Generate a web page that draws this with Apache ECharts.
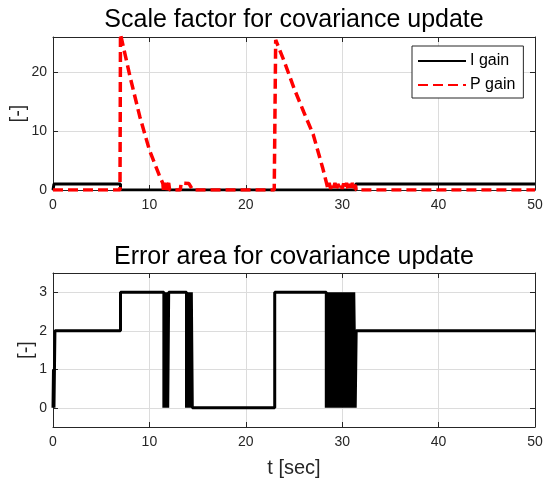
<!DOCTYPE html>
<html>
<head>
<meta charset="utf-8">
<title>Scale factor / Error area</title>
<script src="https://cdn.jsdelivr.net/npm/echarts@6/dist/echarts.min.js"></script>
<style>
  html, body { margin: 0; padding: 0; background: #fff; }
  #chart { width: 550px; height: 486px; }
</style>
</head>
<body>
<div id="chart"></div>
<script>
// I gain (zero-order hold)
var iGainT = [0, 0.1, 7.0, 31.4, 50];
var iGainV = [0, 1, 0, 1, 1];

// P gain
var pGainT = [0, 6.95, 7.0, 8, 9, 10, 11, 11.4, 11.45, 11.7, 11.75, 12.0, 12.1, 13.2, 13.3, 14.1, 14.5,
  22.95, 23.1, 24, 25, 26, 27, 28, 28.4, 28.5, 28.65, 28.8, 28.95, 29.1, 29.25, 29.4, 29.55, 29.7,
  29.85, 30.0, 30.15, 30.3, 30.45, 30.6, 30.75, 30.9, 31.05, 31.2, 31.35, 31.45, 50];
var pGainV = [0, 0, 26.5, 19.2, 12.5, 6.8, 2.6, 1.1, 0, 1.2, 0, 1.2, 0, 0, 1.2, 1.1, 0,
  0, 25.5, 21.8, 17.3, 13.3, 9.4, 3.6, 1.0, 0.3, 1.2, 0.2, 1.1, 0.4, 1.2, 0.1, 1.0, 0.5,
  1.2, 0.2, 1.1, 0.3, 1.2, 0.2, 1.0, 0.4, 1.2, 0.2, 0.9, 0, 0];

// error area (zero-order hold)
var errT = [0, 0.05, 0.1, 0.15, 0.2, 7.0, 11.5, 11.6, 11.7, 11.8, 11.9, 12.0,
  13.85, 13.95, 14.05, 14.15, 14.25, 14.35, 14.45, 23.0,
  28.35, 28.5, 28.65, 28.8, 28.95, 29.1, 29.25, 29.4, 29.55, 29.7, 29.85, 30.0,
  30.15, 30.3, 30.45, 30.6, 30.75, 30.9, 31.05, 31.2, 31.35, 31.45, 50];
var errV = [0, 1, 0, 1, 2, 3, 0, 3, 0, 3, 0, 3,
  0, 3, 0, 3, 0, 3, 0, 3,
  0, 3, 0, 3, 0, 3, 0, 3, 0, 3, 0, 3,
  0, 3, 0, 3, 0, 3, 0, 3, 0, 2, 2];

var errTicks = [0, 1, 2, 3];

function zip(t, v) {
  return t.map(function (x, i) { return [x, v[i]]; });
}

var font = 'Liberation Sans, Arial, Helvetica, sans-serif';
var axisColor = '#262626';
var gridColor = '#dcdcdc';

function xAxis(gridIndex, top, name) {
  return {
    type: 'value', gridIndex: gridIndex, position: top ? 'top' : 'bottom',
    min: 0, max: 50, interval: 10,
    name: name || '', nameLocation: 'middle', nameGap: 31, nameMoveOverlap: false,
    nameTextStyle: { fontSize: 20, color: axisColor, fontFamily: font },
    axisLine: { show: true, onZero: false, lineStyle: { color: axisColor, width: 1 } },
    axisTick: { show: true, inside: true, length: 5, lineStyle: { color: axisColor } },
    axisLabel: { show: !top, fontSize: 14, color: axisColor, fontFamily: font, margin: 8 },
    splitLine: { show: !top, lineStyle: { color: gridColor, width: 1 } }
  };
}

function yAxis(gridIndex, right, opts) {
  var a = {
    type: 'value', gridIndex: gridIndex, position: right ? 'right' : 'left',
    min: opts.min, max: opts.max,
    name: right ? '' : '[-]', nameLocation: 'middle', nameGap: opts.gap || 0,
    nameMoveOverlap: false,
    nameTextStyle: { fontSize: 20, color: axisColor, fontFamily: font },
    axisLine: { show: true, onZero: false, lineStyle: { color: axisColor, width: 1 } },
    axisTick: { show: true, inside: true, length: 5, lineStyle: { color: axisColor } },
    axisLabel: { show: !right, fontSize: 14, color: axisColor, fontFamily: font, margin: 6 },
    splitLine: { show: !right, lineStyle: { color: gridColor, width: 1 } }
  };
  if (opts.interval) {
    a.interval = opts.interval;
    a.axisLabel.showMaxLabel = false;
  }
  if (opts.ticks) {
    a.axisTick.customValues = opts.ticks;
    a.axisLabel.customValues = opts.ticks;
  }
  return a;
}

var option = {
  animation: false,
  backgroundColor: '#fff',
  textStyle: { fontFamily: font },
  title: [
    { text: 'Scale factor for covariance update', left: 289, top: 3, textAlign: 'center',
      textStyle: { fontSize: 25, fontWeight: 'normal', color: '#000', fontFamily: font } },
    { text: 'Error area for covariance update', left: 289, top: 240, textAlign: 'center',
      textStyle: { fontSize: 25, fontWeight: 'normal', color: '#000', fontFamily: font } }
  ],
  legend: {
    orient: 'vertical', left: 412, top: 46,
    data: ['I gain', 'P gain'],
    itemWidth: 48, itemHeight: 14, itemGap: 8,
    padding: [7, 8, 5, 5],
    backgroundColor: '#fff', borderColor: axisColor, borderWidth: 1, borderRadius: 0,
    itemStyle: { opacity: 0, borderWidth: 0 },
    textStyle: { fontSize: 16, color: '#000', fontFamily: font, padding: [0, 0, 0, -1] }
  },
  grid: [
    { left: 53, right: 15, top: 37, height: 153, outerBoundsMode: 'none' },
    { left: 53, right: 15, top: 273, height: 154, outerBoundsMode: 'none' }
  ],
  xAxis: [
    xAxis(0, false),
    xAxis(1, false, 't [sec]'),
    xAxis(0, true),
    xAxis(1, true)
  ],
  yAxis: [
    yAxis(0, false, { min: 0, max: 26, interval: 10, gap: 25 }),
    yAxis(1, false, { min: -0.5, max: 3.5, ticks: errTicks, gap: 17 }),
    yAxis(0, true, { min: 0, max: 26, interval: 10 }),
    yAxis(1, true, { min: -0.5, max: 3.5, ticks: errTicks })
  ],
  series: [
    { name: 'I gain', type: 'line', xAxisIndex: 0, yAxisIndex: 0, step: 'end',
      symbol: 'none', data: zip(iGainT, iGainV),
      lineStyle: { color: '#000', width: 3 }, itemStyle: { color: '#000' } },
    { name: 'P gain', type: 'line', xAxisIndex: 0, yAxisIndex: 0,
      symbol: 'none', data: zip(pGainT, pGainV),
      lineStyle: { color: '#ff0000', width: 3.5, type: [10, 5] }, itemStyle: { color: '#ff0000' } },
    { name: 'Error area', type: 'line', xAxisIndex: 1, yAxisIndex: 1, step: 'end',
      symbol: 'none', data: zip(errT, errV),
      lineStyle: { color: '#000', width: 3 }, itemStyle: { color: '#000' } }
  ]
};

var myChart = echarts.init(document.getElementById('chart'));
myChart.setOption(option);
</script>
</body>
</html>
